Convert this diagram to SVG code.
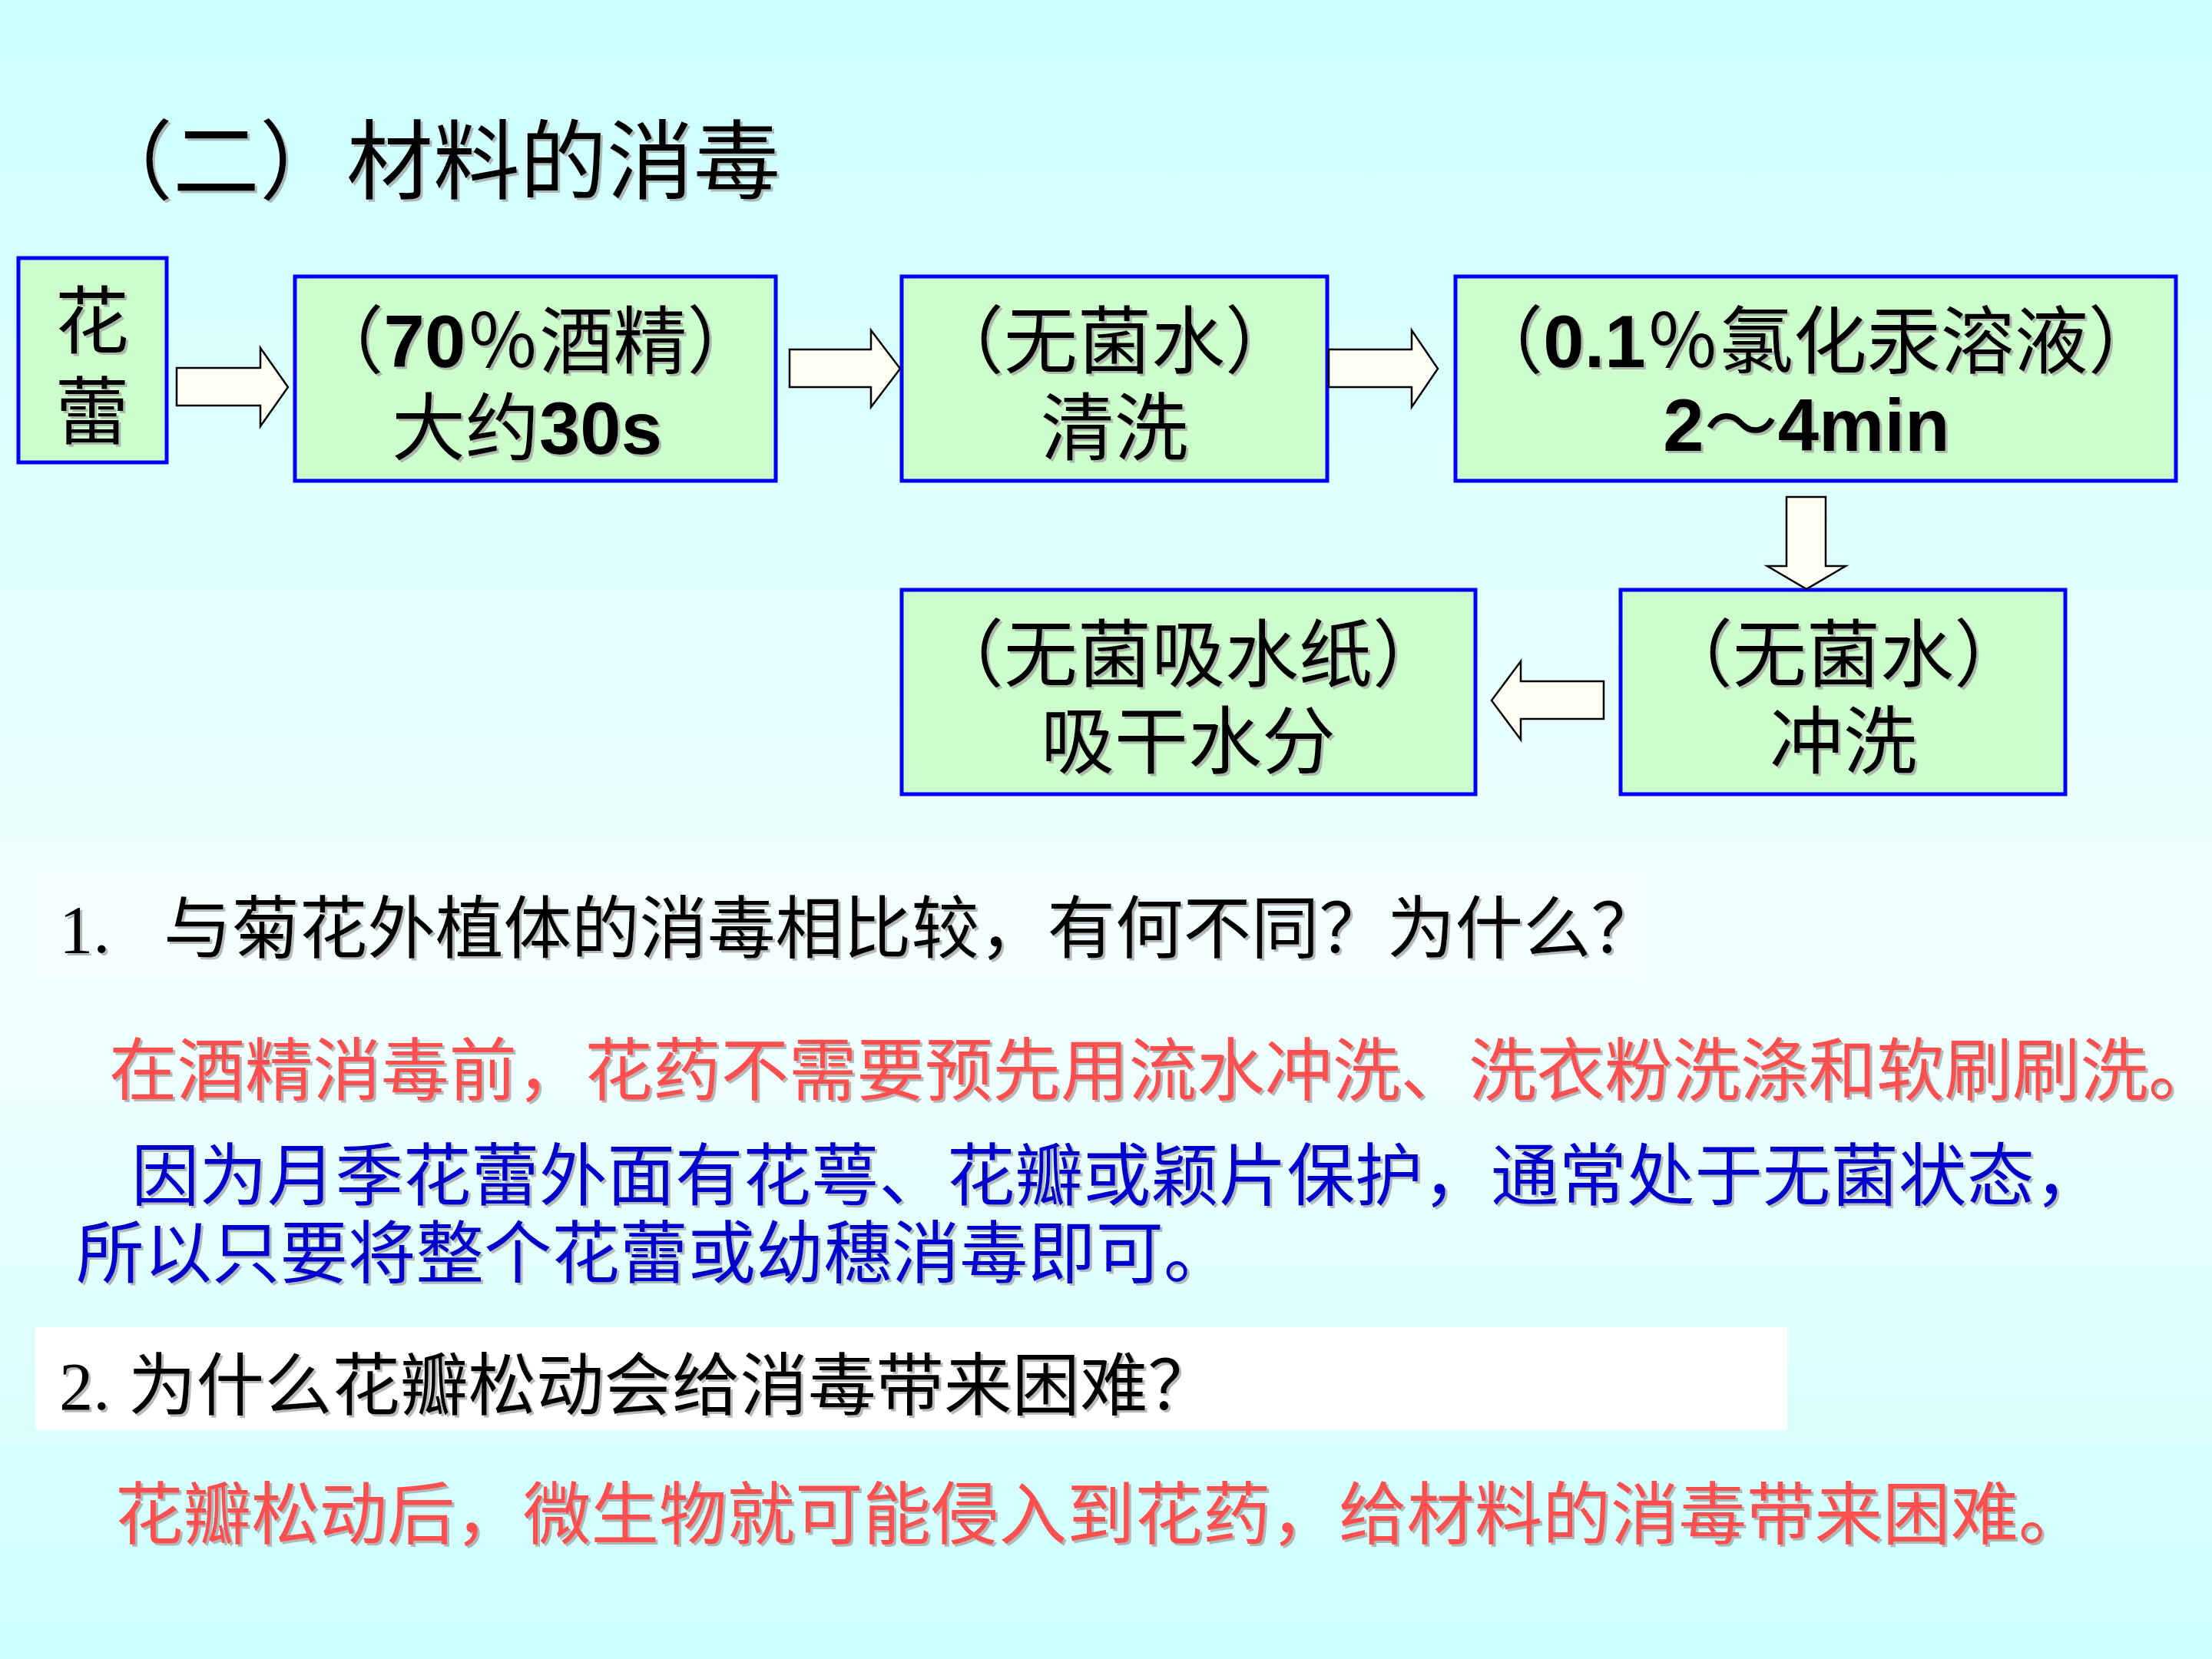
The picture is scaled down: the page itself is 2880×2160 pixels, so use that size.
<svg xmlns="http://www.w3.org/2000/svg" width="2880" height="2160" viewBox="0 0 2880 2160">
<defs>
<linearGradient id="bg" x1="0" y1="0" x2="0" y2="1">
<stop offset="0" stop-color="#CCFFFF"/>
<stop offset="0.6" stop-color="#F2FFFF"/>
<stop offset="1" stop-color="#CCFFFF"/>
</linearGradient>
<filter id="sh" x="-5%" y="-20%" width="110%" height="140%">
<feOffset in="SourceAlpha" dx="3" dy="3" result="o"/>
<feFlood flood-color="#9A9A9A" flood-opacity="0.7"/>
<feComposite in2="o" operator="in" result="s"/>
<feMerge><feMergeNode in="s"/><feMergeNode in="SourceGraphic"/></feMerge>
</filter>
<style>
.box{fill:#CCFFCC;stroke:#0000FF;stroke-width:5}
.arr{fill:#FFFFF5;stroke:#000;stroke-width:2.5;stroke-linejoin:miter}
.bt{font-family:"Liberation Sans","Noto Sans CJK SC",sans-serif;font-size:96px;fill:#000;text-anchor:middle;filter:url(#sh)}
.b{font-weight:bold}
.q{font-family:"Liberation Serif","Noto Sans CJK SC",serif;font-size:88.5px;filter:url(#sh)}
</style>
</defs>
<rect x="0" y="0" width="2880" height="2160" fill="url(#bg)"/>
<text x="112" y="250" font-family="'Noto Sans CJK SC',sans-serif" font-size="113" fill="#000" filter="url(#sh)">（二）材料的消毒</text>

<g id="node-hualei">
<rect class="box" x="24" y="336" width="193" height="266"/>
<text class="bt" x="120" y="452">花</text>
<text class="bt" x="120" y="570">蕾</text>
</g>
<g id="node-alcohol">
<rect class="box" x="384" y="360" width="626" height="266"/>
<text class="bt" x="697" y="478">（<tspan class="b">70</tspan>％酒精）</text>
<text class="bt" x="686" y="591">大约<tspan class="b">30s</tspan></text>
</g>
<g id="node-wash">
<rect class="box" x="1174" y="360" width="554" height="266"/>
<text class="bt" x="1451" y="478">（无菌水）</text>
<text class="bt" x="1451" y="591">清洗</text>
</g>
<g id="node-hgcl">
<rect class="box" x="1895" y="360" width="938" height="266"/>
<text class="bt" x="2364" y="478">（<tspan class="b">0.1</tspan>％氯化汞溶液）</text>
<text class="bt" x="2352" y="587"><tspan class="b">2</tspan>～<tspan class="b">4min</tspan></text>
</g>
<g id="node-rinse">
<rect class="box" x="2110" y="768" width="579" height="266"/>
<text class="bt" x="2400" y="886">（无菌水）</text>
<text class="bt" x="2400" y="999">冲洗</text>
</g>
<g id="node-dry">
<rect class="box" x="1174" y="768" width="747" height="266"/>
<text class="bt" x="1547" y="886">（无菌吸水纸）</text>
<text class="bt" x="1547" y="999">吸干水分</text>
</g>

<g id="connectors">
<polygon class="arr" points="230,479 339,479 339,453 375,504 339,555 339,528 230,528"/>
<polygon class="arr" points="1028,455 1134,455 1134,430 1172,480 1134,530 1134,504 1028,504"/>
<polygon class="arr" points="1730,455 1838,455 1838,430 1872,480 1838,530 1838,504 1730,504"/>
<polygon class="arr" points="2326,647 2377,647 2377,737 2403,737 2352,767 2301,737 2326,737"/>
<polygon class="arr" points="2088,887 1980,887 1980,861 1942,912 1980,963 1980,936 2088,936"/>
</g>

<rect x="46" y="1130" width="2090" height="138" fill="#FFFFFF" fill-opacity="0.35"/>
<text class="q" y="1240" fill="#000"><tspan x="77">1.</tspan><tspan x="213">与菊花外植体的消毒相比较，有何不同？为什么？</tspan></text>
<text class="q" x="142" y="1425" fill="#FF5050" font-size="88">在酒精消毒前，花药不需要预先用流水冲洗、洗衣粉洗涤和软刷刷洗。</text>
<text class="q" x="171" y="1562" fill="#0000CC">因为月季花蕾外面有花萼、花瓣或颖片保护，通常处于无菌状态，</text>
<text class="q" x="99" y="1663" fill="#0000CC">所以只要将整个花蕾或幼穗消毒即可。</text>
<rect x="46" y="1728" width="2281" height="134" fill="#FFFFFF"/>
<text class="q" y="1835" fill="#000" font-size="86"><tspan x="77">2.</tspan><tspan x="167">为什么花瓣松动会给消毒带来困难？</tspan></text>
<text class="q" x="150" y="2003" fill="#FF5050" font-size="90">花瓣松动后，微生物就可能侵入到花药，给材料的消毒带来困难。</text>
</svg>
